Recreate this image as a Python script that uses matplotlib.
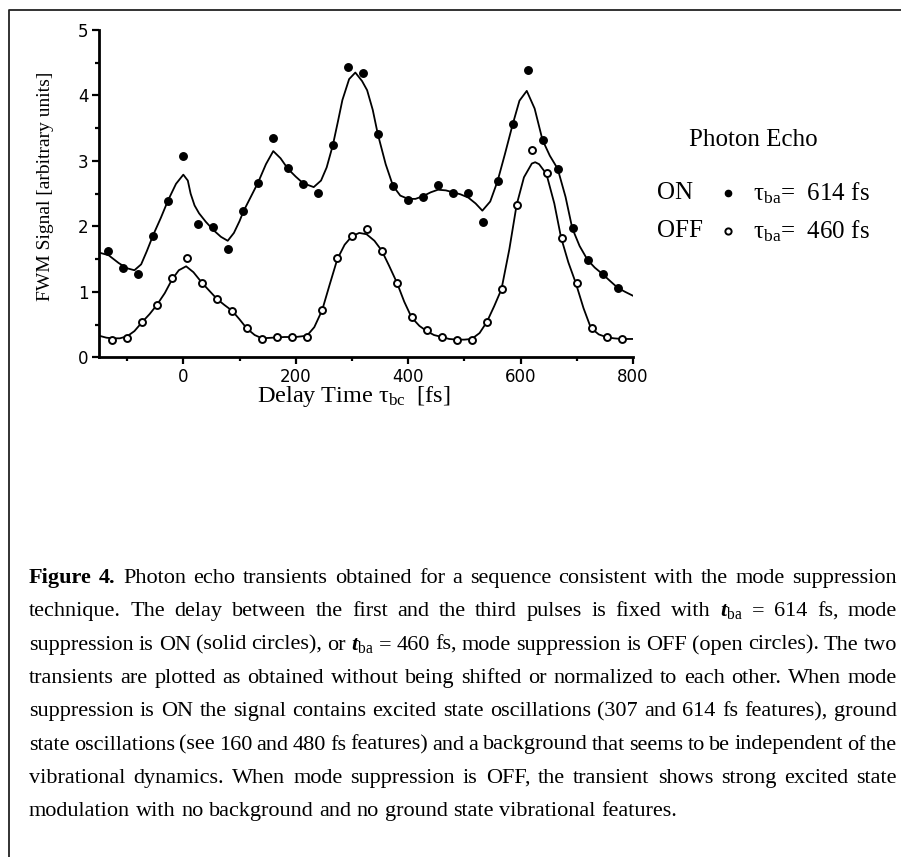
import matplotlib
matplotlib.use("Agg")
import matplotlib.pyplot as plt
from matplotlib.lines import Line2D
from matplotlib.ticker import MultipleLocator

plt.rcParams["mathtext.fontset"] = "custom"
plt.rcParams["mathtext.rm"] = "Liberation Serif"
plt.rcParams["mathtext.it"] = "Liberation Serif:italic"
plt.rcParams["mathtext.bf"] = "Liberation Serif:italic:bold"

W, H = 901, 857

# measured points, mode suppression ON (solid circles)
on_delay = [-133.3, -106.7, -80, -53.3, -26.7, 0, 26.7, 53.3, 80, 106.7, 133.3, 160,
            186.7, 213.3, 240, 266.7, 293.3, 320, 346.7, 373.3, 400, 426.7, 453.3, 480,
            506.7, 533.3, 560, 586.7, 613.3, 640, 666.7, 693.3, 720, 746.7, 773.3]
on_signal = [1.63, 1.37, 1.27, 1.86, 2.39, 3.08, 2.03, 1.99, 1.65, 2.23, 2.67, 3.35,
             2.89, 2.65, 2.51, 3.24, 4.44, 4.35, 3.41, 2.62, 2.41, 2.45, 2.63, 2.51,
             2.51, 2.07, 2.69, 3.56, 4.39, 3.32, 2.88, 1.97, 1.49, 1.27, 1.06]

# measured points, mode suppression OFF (open circles)
off_delay = [-126.7, -100, -73.3, -46.7, -20, 6.7, 33.3, 60, 86.7, 113.3, 140, 166.7,
             193.3, 220, 246.7, 273.3, 300, 326.7, 353.3, 380, 406.7, 433.3, 460, 486.7,
             513.3, 540, 566.7, 593.3, 620, 646.7, 673.3, 700, 726.7, 753.3, 780]
off_signal = [0.26, 0.30, 0.54, 0.80, 1.21, 1.51, 1.14, 0.89, 0.71, 0.44, 0.28, 0.31,
              0.31, 0.31, 0.72, 1.52, 1.86, 1.96, 1.63, 1.14, 0.61, 0.41, 0.31, 0.26,
              0.26, 0.54, 1.04, 2.33, 3.17, 2.81, 1.83, 1.14, 0.44, 0.31, 0.28]

# fitted curves
on_fit_delay = [-150, -133, -115, -100, -87, -75, -65, -53, -40, -27, -13, 0, 8, 13, 20,
                28, 40, 54, 67, 79, 90, 100, 107, 120, 133, 147, 160, 173, 186, 200, 213,
                232, 245, 255, 266, 275, 283, 295, 306, 318, 327, 337, 346, 360, 373, 386,
                400, 413, 426, 440, 453, 467, 480, 493, 507, 520, 532, 546, 559, 572, 586,
                598, 611, 625, 639, 652, 666, 680, 692, 705, 719, 732, 746, 760, 773, 786, 800]
on_fit_signal = [1.60, 1.56, 1.44, 1.36, 1.33, 1.42, 1.62, 1.88, 2.13, 2.40, 2.65, 2.79, 2.70,
                 2.50, 2.32, 2.20, 2.07, 1.94, 1.84, 1.78, 1.90, 2.08, 2.23, 2.45, 2.67, 2.95,
                 3.15, 3.04, 2.88, 2.76, 2.66, 2.60, 2.70, 2.90, 3.24, 3.60, 3.93, 4.25, 4.35,
                 4.22, 4.08, 3.78, 3.41, 2.95, 2.62, 2.47, 2.42, 2.42, 2.46, 2.52, 2.56, 2.55,
                 2.52, 2.49, 2.44, 2.35, 2.24, 2.38, 2.69, 3.10, 3.56, 3.92, 4.07, 3.80, 3.32,
                 3.08, 2.88, 2.45, 1.97, 1.70, 1.49, 1.37, 1.27, 1.16, 1.06, 1.00, 0.94]

off_fit_delay = [-150, -137, -127, -113, -100, -87, -73, -60, -47, -33, -20, -8, 5, 18, 33,
                 47, 60, 73, 87, 100, 113, 127, 140, 160, 180, 200, 220, 233, 247, 260, 274,
                 287, 300, 313, 326, 340, 353, 366, 380, 393, 406, 420, 433, 446, 460, 473,
                 487, 500, 513, 527, 540, 553, 566, 580, 593, 606, 620, 626, 633, 646, 660,
                 672, 685, 698, 712, 725, 739, 752, 766, 780, 800]
off_fit_signal = [0.33, 0.30, 0.29, 0.29, 0.32, 0.40, 0.54, 0.66, 0.80, 0.98, 1.19, 1.33,
                  1.39, 1.30, 1.14, 1.01, 0.89, 0.80, 0.71, 0.58, 0.44, 0.34, 0.29, 0.30,
                  0.31, 0.31, 0.33, 0.46, 0.72, 1.10, 1.50, 1.72, 1.85, 1.90, 1.88, 1.78,
                  1.63, 1.40, 1.14, 0.85, 0.61, 0.48, 0.40, 0.34, 0.31, 0.28, 0.27, 0.27,
                  0.28, 0.37, 0.54, 0.78, 1.04, 1.65, 2.33, 2.75, 2.96, 2.98, 2.95, 2.80,
                  2.35, 1.83, 1.45, 1.14, 0.75, 0.45, 0.35, 0.31, 0.29, 0.28, 0.28]

x_ticks = [0, 200, 400, 600, 800]
y_ticks = [0, 1, 2, 3, 4, 5]

caption_lines = [
    "Figure 4. Photon echo transients obtained for a sequence consistent with the mode suppression",
    "technique. The delay between the first and the third pulses is fixed with $\\mathbf{t}_{\\mathrm{ba}}$ = 614 fs, mode",
    "suppression is ON (solid circles), or $\\mathbf{t}_{\\mathrm{ba}}$ = 460 fs, mode suppression is OFF (open circles). The two",
    "transients are plotted as obtained without being shifted or normalized to each other. When mode",
    "suppression is ON the signal contains excited state oscillations (307 and 614 fs features), ground",
    "state oscillations (see 160 and 480 fs features) and a background that seems to be independent of the",
    "vibrational dynamics. When mode suppression is OFF, the transient shows strong excited state",
    "modulation with no background and no ground state vibrational features.",
]

SERIF = "Liberation Serif"


def fx(px):
    return px / W


def fy(py):
    return 1 - py / H


fig = plt.figure(figsize=(W / 100, H / 100), dpi=100)
ax = fig.add_axes([fx(99), fy(357.3), (633 - 99) / W, (357.3 - 30) / H])

ax.plot(on_fit_delay, on_fit_signal, color="black", lw=1.3, zorder=2)
ax.plot(off_fit_delay, off_fit_signal, color="black", lw=1.3, zorder=2)
ax.plot(on_delay, on_signal, "o", ms=5.4, color="black", zorder=3)
ax.plot(off_delay, off_signal, "o", ms=5, mfc="white", mec="black", mew=1.4, zorder=3)

ax.set_xlim(-150, 800)
ax.set_ylim(0, 5)
ax.set_xticks(x_ticks)
ax.set_yticks(y_ticks)
ax.xaxis.set_minor_locator(MultipleLocator(100))
ax.yaxis.set_minor_locator(MultipleLocator(0.5))
for s in ["top", "right"]:
    ax.spines[s].set_visible(False)
for s in ["left", "bottom"]:
    ax.spines[s].set_linewidth(2)
ax.tick_params(which="major", direction="out", length=5, width=1.6, labelsize=12, pad=2.5)
ax.tick_params(which="minor", direction="out", length=3, width=1.6)
ax.patch.set_alpha(0)

# axis labels
fig.text(fx(46), fy(186), "FWM Signal [arbitrary units]", rotation=90, family=SERIF,
         fontsize=14, ha="center", va="center")
fig.text(fx(257), fy(402), "Delay Time $\\mathrm{\\tau}_{\\mathrm{bc}}$  [fs]", family=SERIF,
         fontsize=17.5, ha="left", va="baseline")

# legend
fig.text(fx(753), fy(140), "Photon Echo", family=SERIF, fontsize=18, ha="center", va="center")
fig.text(fx(657), fy(193), "ON", family=SERIF, fontsize=18, ha="left", va="center")
fig.text(fx(657), fy(231), "OFF", family=SERIF, fontsize=18, ha="left", va="center")
fig.add_artist(Line2D([fx(728)], [fy(193)], marker="o", ms=4.5, color="black",
                      transform=fig.transFigure))
fig.add_artist(Line2D([fx(728)], [fy(231)], marker="o", ms=4.5, mfc="white", mec="black",
                      mew=1.4, transform=fig.transFigure))
fig.text(fx(753), fy(193), "$\\mathrm{\\tau}_{\\mathrm{ba}}$=  614 fs", family=SERIF,
         fontsize=18, ha="left", va="center")
fig.text(fx(753), fy(231), "$\\mathrm{\\tau}_{\\mathrm{ba}}$=  460 fs", family=SERIF,
         fontsize=18, ha="left", va="center")

# frame around figure
fig.add_artist(Line2D([fx(9), fx(9), 1], [0, fy(10), fy(10)], transform=fig.transFigure,
                      color="#222222", lw=1.3))

# justified caption
renderer = fig.canvas.get_renderer()
left_px, right_px = 29, 897


def measure(word, size, weight):
    t = fig.text(0, 0, word, family=SERIF, fontsize=size, weight=weight)
    w = t.get_window_extent(renderer).width
    t.remove()
    return w


def line_words(i, line):
    words = line.split(" ")
    return [(w, "bold" if (i == 0 and k < 2) else "normal") for k, w in enumerate(words)]


size = 16.0
while size > 9:
    ok = True
    for i, line in enumerate(caption_lines[:-1]):
        ws = line_words(i, line)
        total = sum(measure(w, size, wt) for w, wt in ws)
        if (right_px - left_px - total) / (len(ws) - 1) < 3.2:
            ok = False
            break
    if ok:
        break
    size -= 0.25

for i, line in enumerate(caption_lines):
    ws = line_words(i, line)
    widths = [measure(w, size, wt) for w, wt in ws]
    if i < len(caption_lines) - 1:
        gap = (right_px - left_px - sum(widths)) / (len(ws) - 1)
    else:
        gap = measure("a b", size, "normal") - measure("ab", size, "normal")
    x = left_px
    base = 583 + 33.3 * i
    for (w, wt), wd in zip(ws, widths):
        fig.text(fx(x), fy(base), w, family=SERIF, fontsize=size, weight=wt,
                 ha="left", va="baseline")
        x += wd + gap

fig.savefig("out.png", dpi=100)
